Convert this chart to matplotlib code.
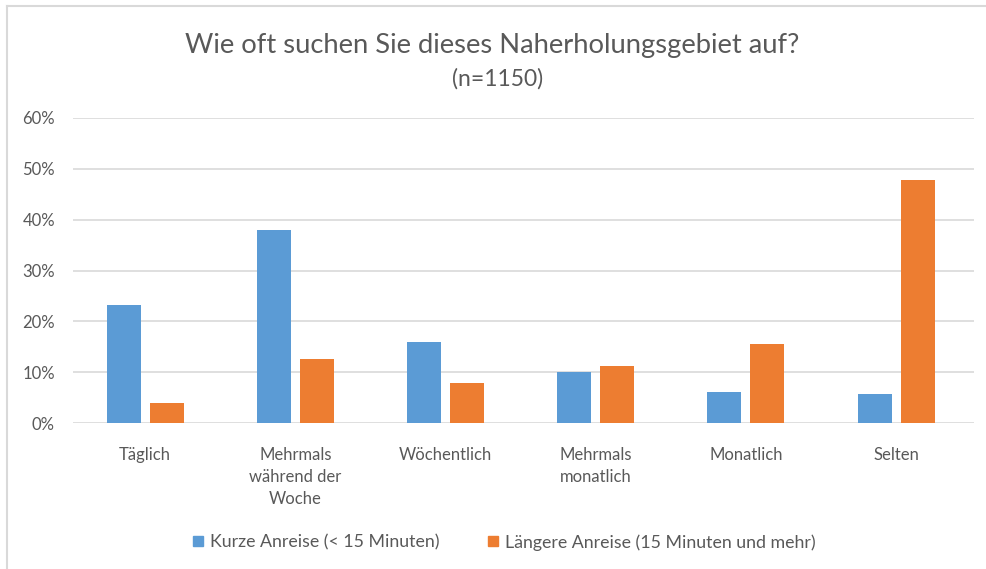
import matplotlib.pyplot as plt
import numpy as np
from matplotlib.lines import Line2D
from matplotlib.ticker import PercentFormatter

plt.rcParams['font.family'] = ['Lato', 'DejaVu Sans']

kategorien = ['Täglich', 'Mehrmals\nwährend der\nWoche', 'Wöchentlich',
              'Mehrmals\nmonatlich', 'Monatlich', 'Selten']
kurz = [23.3, 37.9, 16.0, 10.0, 6.1, 5.7]
lang = [3.9, 12.6, 7.9, 11.3, 15.6, 47.8]
serien = ['Kurze Anreise (< 15 Minuten)', 'Längere Anreise (15 Minuten und mehr)']

blau = '#5B9BD5'
orange = '#ED7D31'
grau = '#595959'

fig = plt.figure(figsize=(9.87, 5.69), dpi=100)
ax = fig.add_axes([0.074, 0.256, 0.913, 0.537])

x = np.arange(len(kategorien))
b = 0.227
d = 0.143
ax.bar(x - d, kurz, b, color=blau, label=serien[0], zorder=3)
ax.bar(x + d, lang, b, color=orange, label=serien[1], zorder=3)

ax.set_xlim(-0.48, 5.52)
ax.set_ylim(0, 60)
ax.set_yticks(np.arange(0, 61, 10))
ax.yaxis.set_major_formatter(PercentFormatter(decimals=0))
ax.grid(axis='y', color='#d9d9d9', linewidth=1.2, zorder=0)
for s in ax.spines.values():
    s.set_visible(False)
ax.tick_params(length=0, labelsize=12, colors=grau)
ax.set_xticks(x)
ax.set_xticklabels(kategorien, linespacing=1.45, va='top')
ax.tick_params(axis='x', pad=17)
ax.tick_params(axis='y', pad=13)

fig.text(0.499, 0.92, 'Wie oft suchen Sie dieses Naherholungsgebiet auf?',
         ha='center', va='center', fontsize=19.7, color=grau)
fig.text(0.504, 0.862, '(n=1150)', ha='center', va='center', fontsize=16.5, color=grau)

fig.legend(handles=[
    Line2D([], [], marker='s', linestyle='', color=blau, markersize=7, label=serien[0]),
    Line2D([], [], marker='s', linestyle='', color=orange, markersize=7, label=serien[1])],
    loc='center', bbox_to_anchor=(0.51, 0.047), ncol=2, frameon=False,
    fontsize=12.8, labelcolor=grau, handlelength=0.8, handletextpad=0.3,
    columnspacing=2.6)

# Rahmen oben und links
fig.add_artist(Line2D([0.0075, 0.0075], [0, 0.99], transform=fig.transFigure,
                      color='#d9d9d9', linewidth=1.5))
fig.add_artist(Line2D([0.0075, 1], [0.99, 0.99], transform=fig.transFigure,
                      color='#d9d9d9', linewidth=1.5))

fig.savefig('out.png', dpi=100)
